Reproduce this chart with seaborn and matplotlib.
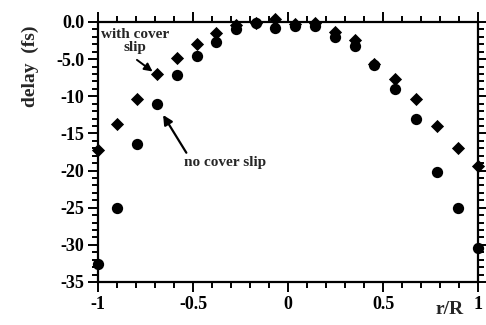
import matplotlib
matplotlib.use("Agg")
import matplotlib.pyplot as plt
import seaborn as sns
import pandas as pd
from matplotlib.ticker import MultipleLocator

# data
r_over_R = [-1.0, -0.9, -0.795, -0.69, -0.585, -0.48, -0.38, -0.275, -0.17, -0.07,
            0.035, 0.14, 0.245, 0.35, 0.455, 0.565, 0.675, 0.785, 0.895, 1.0]
with_cover = [-17.2, -13.7, -10.3, -7.05, -4.8, -3.0, -1.5, -0.4, -0.1, 0.4,
              -0.3, -0.2, -1.4, -2.4, -5.6, -7.7, -10.3, -14.0, -17.0, -19.4]
no_cover = [-32.6, -25.1, -16.4, -11.0, -7.2, -4.6, -2.7, -1.0, -0.2, -0.8,
            -0.5, -0.6, -2.0, -3.2, -5.8, -9.0, -13.1, -20.2, -25.0, -30.4]
x_ticks = [-1, -0.5, 0, 0.5, 1]
x_tick_labels = ["-1", "-0.5", "0", "0.5", "1"]
y_ticks = [0, -5, -10, -15, -20, -25, -30, -35]
y_tick_labels = ["0.0", "-5.0", "-10", "-15", "-20", "-25", "-30", "-35"]

sns.set_style("ticks")
plt.rcParams["font.family"] = ["Liberation Serif", "DejaVu Serif"]
plt.rcParams["font.weight"] = "bold"

df_with = pd.DataFrame({"r": r_over_R, "delay": with_cover})
df_no = pd.DataFrame({"r": r_over_R, "delay": no_cover})

fig = plt.figure(figsize=(4.86, 3.25), dpi=100)
ax = fig.add_axes([98/486, 1-282/325, 380/486, 260/325])

sns.scatterplot(data=df_with, x="r", y="delay", marker="D", s=45, color="black",
                edgecolor="black", linewidth=0, ax=ax, clip_on=False, zorder=3)
sns.scatterplot(data=df_no, x="r", y="delay", marker="o", s=66, color="black",
                edgecolor="black", linewidth=0, ax=ax, clip_on=False, zorder=3)

ax.set_xlim(-1, 1)
ax.set_ylim(-35, 0)
ax.set_xticks(x_ticks)
ax.set_xticklabels(x_tick_labels)
ax.set_yticks(y_ticks)
ax.set_yticklabels(y_tick_labels)
ax.xaxis.set_minor_locator(MultipleLocator(0.1))
ax.yaxis.set_minor_locator(MultipleLocator(1))
ax.tick_params(which="both", direction="out", top=True, right=True,
               labeltop=False, labelright=False, width=1.4, colors="black")
ax.tick_params(which="major", length=7, labelsize=13, pad=3)
ax.tick_params(which="minor", length=4)
for lab in ax.get_xticklabels() + ax.get_yticklabels():
    lab.set_fontweight("bold")
for sp in ax.spines.values():
    sp.set_linewidth(1.6)
    sp.set_color("black")

ax.set_xlabel("")
ax.set_ylabel("")
fig.text(30/486, 1-66/325, "delay  (fs)", rotation=90, ha="center", va="center",
         fontsize=14, fontweight="bold")
fig.text(450/486, 1-310/325, "r/R", ha="center", va="center",
         fontsize=14, fontweight="bold")

# annotations
ax.text(-0.805, -2.6, "with cover\nslip", ha="center", va="center",
        fontsize=11, fontweight="bold", linespacing=1.0)
ax.annotate("", xy=(-0.695, -7.0), xytext=(-0.795, -5.1),
            arrowprops=dict(arrowstyle="-|>", color="black", lw=1.4,
                            shrinkA=0, shrinkB=3, mutation_scale=12))
ax.text(-0.33, -18.9, "no cover slip", ha="center", va="center",
        fontsize=11, fontweight="bold")
ax.annotate("", xy=(-0.665, -12.2), xytext=(-0.535, -17.6),
            arrowprops=dict(arrowstyle="-|>", color="black", lw=1.6,
                            shrinkA=0, shrinkB=2, mutation_scale=14))

fig.savefig("out.png", dpi=100)
